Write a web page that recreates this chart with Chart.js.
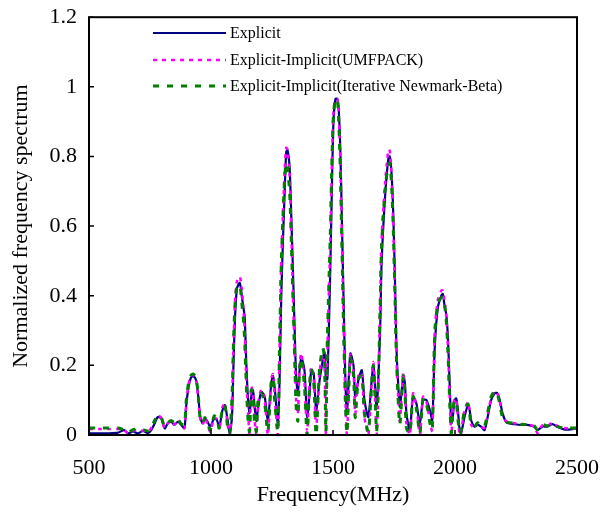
<!DOCTYPE html>
<html>
<head>
<meta charset="utf-8">
<script src="https://cdn.jsdelivr.net/npm/chart.js@4.4.1/dist/chart.umd.min.js"></script>
<style>
  html, body { margin: 0; padding: 0; background: #fff; }
  #wrap { width: 611px; height: 512px; }
</style>
</head>
<body>
<div id="wrap"><canvas id="spec"></canvas></div>
<script>
// frequency grid (MHz), shared by all three curves
const freq = [500, 540, 580, 620, 644, 660, 680, 701, 721, 742, 755, 769, 782, 796, 810, 823, 837, 850, 864, 878,
  891, 898, 908, 918, 928, 939, 948, 956, 966, 975, 986, 997, 1013, 1024, 1034, 1047, 1057, 1068, 1077, 1086,
  1092, 1098, 1106, 1118, 1126, 1132, 1138, 1145, 1152, 1158, 1165, 1172, 1179, 1186, 1193, 1206, 1220, 1233, 1247, 1254,
  1262, 1274, 1281, 1288, 1295, 1302, 1308, 1313, 1322, 1329, 1336, 1343, 1349, 1356, 1363, 1370, 1383, 1394, 1404, 1411,
  1421, 1431, 1445, 1458, 1465, 1471, 1477, 1489, 1496, 1502, 1510, 1518, 1523, 1530, 1536, 1543, 1550, 1557, 1571, 1584,
  1591, 1604, 1618, 1629, 1645, 1665, 1679, 1693, 1699, 1713, 1727, 1733, 1740, 1747, 1754, 1760, 1767, 1774, 1788, 1795,
  1801, 1815, 1828, 1842, 1856, 1869, 1883, 1897, 1907, 1917, 1930, 1944, 1950, 1958, 1964, 1971, 1978, 1985, 1991, 1998,
  2005, 2012, 2019, 2025, 2039, 2053, 2060, 2066, 2080, 2093, 2107, 2121, 2134, 2148, 2162, 2172, 2182, 2195, 2209, 2223,
  2243, 2270, 2297, 2324, 2338, 2358, 2378, 2399, 2419, 2447, 2474, 2500];

const explicitVals = [0.005, 0.005, 0.005, 0.007, 0.014, 0.005, 0.010, 0.005, 0.012, 0.005, 0.014, 0.033, 0.052, 0.048, 0.019, 0.033, 0.038, 0.029, 0.038, 0.029,
  0.019, 0.081, 0.138, 0.165, 0.169, 0.157, 0.110, 0.052, 0.033, 0.048, 0.038, 0.024, 0.048, 0.043, 0.024, 0.071, 0.086, 0.043, 0.005, 0.052,
  0.200, 0.330, 0.420, 0.437, 0.400, 0.370, 0.340, 0.200, 0.100, 0.063, 0.110, 0.129, 0.080, 0.040, 0.077, 0.124, 0.110, 0.043, 0.148, 0.170,
  0.129, 0.034, 0.157, 0.400, 0.560, 0.700, 0.810, 0.820, 0.770, 0.630, 0.470, 0.300, 0.167, 0.120, 0.186, 0.224, 0.186, 0.052, 0.120, 0.186,
  0.177, 0.071, 0.157, 0.214, 0.238, 0.160, 0.160, 0.480, 0.730, 0.900, 0.965, 0.965, 0.940, 0.820, 0.630, 0.400, 0.177, 0.062, 0.234, 0.200,
  0.110, 0.157, 0.186, 0.100, 0.052, 0.200, 0.081, 0.300, 0.490, 0.680, 0.795, 0.800, 0.750, 0.634, 0.443, 0.252, 0.148, 0.081, 0.167, 0.148,
  0.062, 0.014, 0.110, 0.090, 0.034, 0.100, 0.100, 0.071, 0.043, 0.252, 0.367, 0.400, 0.405, 0.367, 0.348, 0.280, 0.148, 0.034, 0.052, 0.100,
  0.105, 0.071, 0.014, 0.005, 0.052, 0.086, 0.071, 0.043, 0.024, 0.029, 0.024, 0.014, 0.052, 0.100, 0.119, 0.121, 0.105, 0.062, 0.038, 0.033,
  0.031, 0.029, 0.029, 0.024, 0.014, 0.024, 0.024, 0.031, 0.024, 0.016, 0.016, 0.019];

const umfpackVals = [0.017, 0.017, 0.017, 0.017, 0.014, 0.005, 0.012, 0.015, 0.012, 0.010, 0.020, 0.040, 0.055, 0.050, 0.020, 0.035, 0.040, 0.030, 0.045, 0.030,
  0.020, 0.085, 0.145, 0.170, 0.172, 0.160, 0.100, 0.045, 0.030, 0.050, 0.030, 0.010, 0.050, 0.045, 0.015, 0.080, 0.090, 0.030, 0.000, 0.100,
  0.260, 0.380, 0.440, 0.455, 0.420, 0.370, 0.300, 0.150, 0.060, 0.000, 0.140, 0.120, 0.040, 0.000, 0.090, 0.130, 0.100, 0.000, 0.160, 0.175,
  0.100, 0.000, 0.250, 0.500, 0.640, 0.760, 0.825, 0.820, 0.750, 0.580, 0.400, 0.230, 0.100, 0.060, 0.200, 0.235, 0.150, 0.010, 0.150, 0.195,
  0.160, 0.020, 0.180, 0.230, 0.200, 0.000, 0.250, 0.560, 0.800, 0.930, 0.965, 0.965, 0.930, 0.780, 0.580, 0.330, 0.120, 0.000, 0.230, 0.180,
  0.060, 0.170, 0.180, 0.050, 0.000, 0.210, 0.000, 0.380, 0.560, 0.720, 0.820, 0.815, 0.740, 0.600, 0.400, 0.220, 0.110, 0.040, 0.180, 0.130,
  0.030, 0.000, 0.120, 0.080, 0.000, 0.110, 0.095, 0.040, 0.010, 0.300, 0.390, 0.415, 0.415, 0.380, 0.340, 0.250, 0.110, 0.000, 0.070, 0.105,
  0.100, 0.050, 0.000, 0.010, 0.070, 0.095, 0.070, 0.030, 0.020, 0.035, 0.025, 0.020, 0.060, 0.105, 0.125, 0.122, 0.100, 0.055, 0.040, 0.036,
  0.034, 0.032, 0.030, 0.025, 0.005, 0.028, 0.026, 0.035, 0.026, 0.020, 0.018, 0.020];

const newmarkVals = [0.020, 0.020, 0.020, 0.020, 0.015, 0.008, 0.015, 0.018, 0.015, 0.012, 0.022, 0.042, 0.055, 0.050, 0.025, 0.035, 0.042, 0.035, 0.045, 0.032,
  0.030, 0.095, 0.150, 0.172, 0.175, 0.165, 0.110, 0.045, 0.035, 0.050, 0.035, 0.015, 0.055, 0.045, 0.020, 0.075, 0.085, 0.025, 0.005, 0.110,
  0.260, 0.370, 0.425, 0.430, 0.380, 0.340, 0.270, 0.140, 0.040, 0.010, 0.130, 0.110, 0.030, 0.010, 0.100, 0.120, 0.090, 0.010, 0.150, 0.165,
  0.090, 0.010, 0.260, 0.490, 0.630, 0.740, 0.780, 0.770, 0.700, 0.560, 0.390, 0.220, 0.080, 0.040, 0.190, 0.220, 0.140, 0.000, 0.140, 0.190,
  0.150, 0.000, 0.190, 0.250, 0.220, 0.010, 0.280, 0.580, 0.800, 0.920, 0.965, 0.960, 0.910, 0.760, 0.560, 0.320, 0.110, 0.005, 0.220, 0.170,
  0.050, 0.160, 0.170, 0.060, 0.010, 0.200, 0.010, 0.360, 0.540, 0.700, 0.780, 0.780, 0.720, 0.590, 0.400, 0.220, 0.100, 0.030, 0.170, 0.120,
  0.020, 0.005, 0.110, 0.075, 0.005, 0.105, 0.090, 0.035, 0.015, 0.290, 0.380, 0.395, 0.395, 0.370, 0.330, 0.240, 0.100, 0.005, 0.070, 0.100,
  0.095, 0.045, 0.005, 0.015, 0.070, 0.090, 0.065, 0.030, 0.025, 0.035, 0.025, 0.025, 0.065, 0.110, 0.125, 0.120, 0.095, 0.050, 0.038, 0.035,
  0.034, 0.030, 0.030, 0.027, 0.015, 0.030, 0.026, 0.033, 0.025, 0.020, 0.020, 0.020];

const seriesNames = ["Explicit", "Explicit-Implicit(UMFPACK)", "Explicit-Implicit(Iterative Newmark-Beta)"];
const xTicks = [500, 1000, 1500, 2000, 2500];
const yTicks = [0, 0.2, 0.4, 0.6, 0.8, 1, 1.2];

const FONT = "'Liberation Serif', 'Times New Roman', serif";

function toPoints(vals) {
  return freq.map((f, i) => ({ x: f, y: vals[i] }));
}

// box around the plot, inward ticks and the legend inside the plot
const framePlugin = {
  id: "frame",
  afterDraw(chart) {
    const { ctx, chartArea: a, scales } = chart;
    ctx.save();
    ctx.strokeStyle = "#000";
    ctx.lineWidth = 2;
    ctx.strokeRect(a.left, a.top, a.right - a.left, a.bottom - a.top);

    ctx.lineWidth = 1.5;
    ctx.beginPath();
    yTicks.forEach(v => {
      const y = scales.y.getPixelForValue(v);
      ctx.moveTo(a.left, y);
      ctx.lineTo(a.left + 5, y);
    });
    xTicks.forEach(v => {
      const x = scales.x.getPixelForValue(v);
      ctx.moveTo(x, a.bottom);
      ctx.lineTo(x, a.bottom - 5);
    });
    ctx.stroke();

    // legend
    const lx = 153, rows = [33, 60, 86];
    ctx.font = "16px " + FONT;
    ctx.textBaseline = "middle";
    ctx.fillStyle = "#000";
    chart.data.datasets.forEach((ds, i) => {
      ctx.beginPath();
      ctx.strokeStyle = ds.borderColor;
      ctx.lineWidth = ds.borderWidth;
      ctx.setLineDash(ds.borderDash || []);
      ctx.moveTo(lx, rows[i]);
      ctx.lineTo(lx + 73, rows[i]);
      ctx.stroke();
      ctx.setLineDash([]);
      ctx.fillText(seriesNames[i], lx + 77, rows[i] + 1);
    });
    ctx.restore();
  }
};

new Chart(document.getElementById("spec"), {
  type: "line",
  data: {
    datasets: [
      { label: seriesNames[0], data: toPoints(explicitVals), borderColor: "#000080", borderWidth: 2.2, order: 3 },
      { label: seriesNames[1], data: toPoints(umfpackVals), borderColor: "#ff00ff", borderWidth: 2.5, borderDash: [4, 5], order: 2 },
      { label: seriesNames[2], data: toPoints(newmarkVals), borderColor: "#008000", borderWidth: 3, borderDash: [6, 8], order: 1 }
    ]
  },
  options: {
    responsive: true,
    maintainAspectRatio: false,
    animation: false,
    layout: { padding: { left: 0, top: 15, right: 31, bottom: 0 } },
    elements: { point: { radius: 0 }, line: { tension: 0.25, fill: false } },
    plugins: { legend: { display: false }, tooltip: { enabled: false } },
    scales: {
      x: {
        type: "linear",
        min: 500,
        max: 2500,
        afterFit: s => { s.height = 77; },
        afterBuildTicks: s => { s.ticks = xTicks.map(v => ({ value: v })); },
        grid: { display: false },
        border: { display: false },
        ticks: {
          color: "#000",
          font: { family: FONT, size: 22 },
          padding: 12,
          maxRotation: 0,
          callback: v => String(v)
        },
        title: { display: true, text: "Frequency(MHz)", color: "#000", font: { family: FONT, size: 22 }, padding: { top: 2, bottom: 4 } }
      },
      y: {
        min: 0,
        max: 1.2,
        afterFit: s => { s.width = 89; },
        afterBuildTicks: s => { s.ticks = yTicks.map(v => ({ value: v })); },
        grid: { display: false },
        border: { display: false },
        ticks: {
          color: "#000",
          font: { family: FONT, size: 22 },
          padding: 4,
          callback: v => String(v)
        },
        title: { display: true, text: "Normalized frequency spectrum", color: "#000", font: { family: FONT, size: 22 }, padding: { top: 8, bottom: 0 } }
      }
    }
  },
  plugins: [framePlugin]
});
</script>
</body>
</html>
